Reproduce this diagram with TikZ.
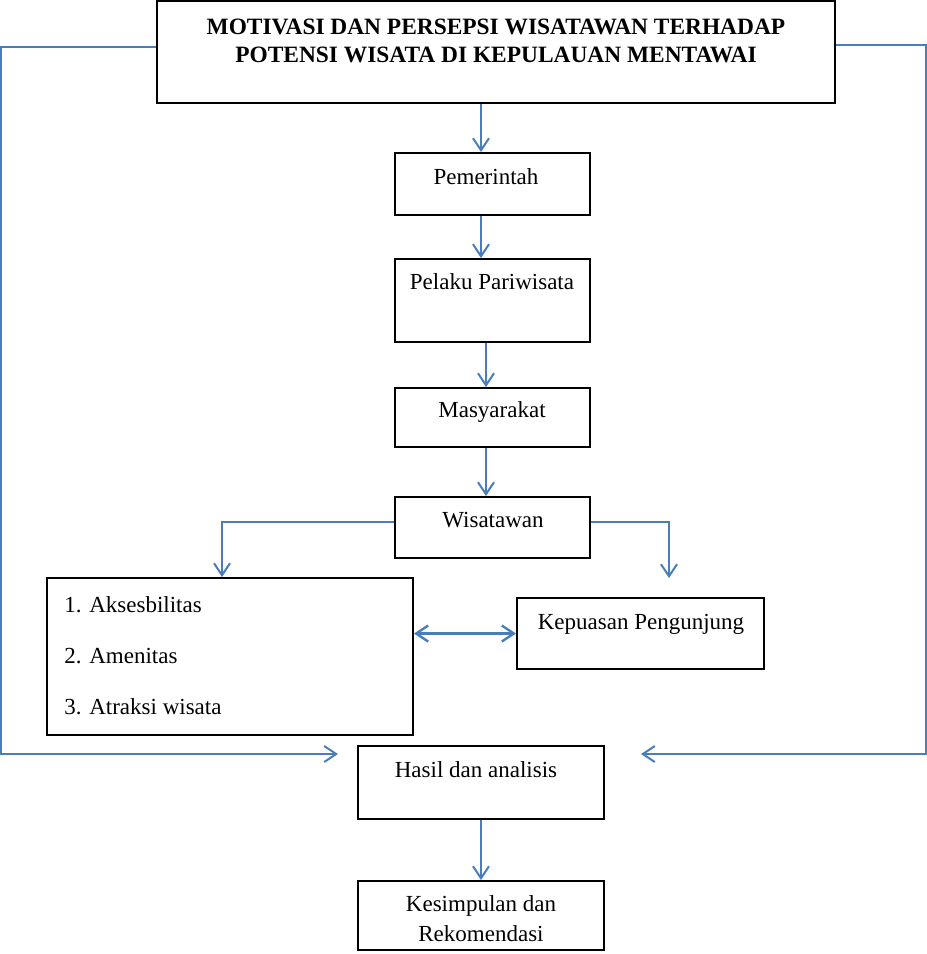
\documentclass[tikz,border=0pt]{standalone}
\usepackage{fontspec}
\setmainfont{Liberation Serif}
\usetikzlibrary{arrows.meta}
\definecolor{lineblue}{HTML}{4A7EBB}

\begin{document}
\begin{tikzpicture}[x=0.5pt, y=-0.5pt,
  box/.style={draw, line width=1pt, inner sep=0pt},
  txt/.style={inner sep=0pt, font=\fontsize{11.5}{13}\selectfont},
  arr/.style={draw=lineblue, line width=1pt, -{Straight Barb[length=6pt, width=8pt]}},
  arrboth/.style={arr, line width=1.2pt, {Straight Barb[length=6pt, width=8pt]}-{Straight Barb[length=6pt, width=8pt]}}]
\useasboundingbox (0,0) rectangle (927,954);

% Boxes
\node[box, line width=1.3pt, minimum width=339pt, minimum height=51pt] (title) at (496,52) {};
\node[box, minimum width=97.5pt, minimum height=31pt] (pem) at (492.5,184) {};
\node[box, minimum width=97.5pt, minimum height=41.5pt] (pel) at (492.5,300.5) {};
\node[box, minimum width=97.5pt, minimum height=29.5pt] (mas) at (492.5,417.5) {};
\node[box, minimum width=97.5pt, minimum height=30.5pt] (wis) at (492.5,527.5) {};
\node[box, minimum width=183pt, minimum height=78.5pt] (list) at (230,656.5) {};
\node[box, minimum width=123.5pt, minimum height=35.5pt] (kep) at (640.5,633.5) {};
\node[box, minimum width=123pt, minimum height=36.5pt] (hasil) at (481,782.5) {};
\node[box, minimum width=123pt, minimum height=34.5pt] (kes) at (481,915.5) {};

% Texts
\node[txt, align=center, font=\bfseries\fontsize{11.7}{14}\selectfont] (titletxt) at (496,41)
  {MOTIVASI DAN PERSEPSI WISATAWAN TERHADAP\\POTENSI WISATA DI KEPULAUAN MENTAWAI};
\node[txt, anchor=base] (pemtxt) at (486,184) {Pemerintah};
\node[txt, anchor=base] (peltxt) at (492,289) {Pelaku Pariwisata};
\node[txt, anchor=base] (mastxt) at (492,417) {Masyarakat};
\node[txt, anchor=base] (wistxt) at (493,527) {Wisatawan};
\node[txt, anchor=north west, align=left, font=\fontsize{11.5}{25.5}\selectfont] (listtxt) at (64,596)
  {1. Aksesbilitas\\2. Amenitas\\3. Atraksi wisata};
\node[txt, anchor=base] (keptxt) at (641,629) {Kepuasan Pengunjung};
\node[txt, anchor=base] (hasiltxt) at (476,777) {Hasil dan analisis};
\node[txt, align=center, font=\fontsize{11.5}{15}\selectfont] (kestxt) at (481,918.5)
  {Kesimpulan dan\\Rekomendasi};

% Free ends
\coordinate (c1) at (481,0);
\coordinate (c2) at (486,0);
\coordinate (inL) at (338,754);
\coordinate (inR) at (641,754);
\coordinate (inK) at (669,578);

% Main chain
\draw[arr] (title.south -| c1) -- (pem.north -| c1);
\draw[arr] (pem.south -| c1) -- (pel.north -| c1);
\draw[arr] (pel.south -| c2) -- (mas.north -| c2);
\draw[arr] (mas.south -| c2) -- (wis.north -| c2);
\draw[arr] (hasil.south) -- (kes.north);

% Branches from Wisatawan
\draw[arr] ([yshift=3pt]wis.west) -| ([xshift=-4pt]list.north);
\draw[arr] ([yshift=3pt]wis.east) -| (inK);
\draw[arrboth] (list.east |- kep.west) -- (kep.west);

% Side loops
\draw[arr] ([yshift=2.5pt]title.west) -- ++(-155,0) |- (inL);
\draw[arr] ([yshift=3.5pt]title.east) -- ++(90,0) |- (inR);
\end{tikzpicture}
\end{document}
